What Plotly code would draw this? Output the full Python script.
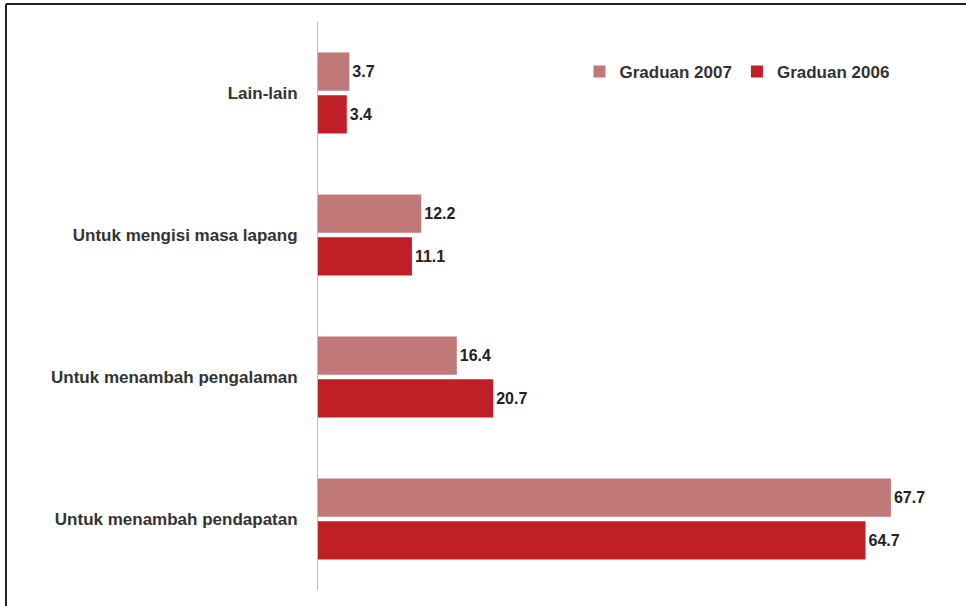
import plotly.graph_objects as go

# data
categories = [
    "Lain-lain",
    "Untuk mengisi masa lapang",
    "Untuk menambah pengalaman",
    "Untuk menambah pendapatan",
]
graduan_2007 = [3.7, 12.2, 16.4, 67.7]
graduan_2006 = [3.4, 11.1, 20.7, 64.7]

COL_2007 = "#c07878"
COL_2006 = "#bf1f26"
FONT = "Liberation Sans, Arial, sans-serif"

fig = go.Figure()
for name, vals, col in [("Graduan 2007", graduan_2007, COL_2007),
                        ("Graduan 2006", graduan_2006, COL_2006)]:
    fig.add_trace(go.Bar(
        y=categories, x=vals, name=name, orientation="h",
        marker=dict(color=col, line=dict(width=0)),
        text=[f"{v:.1f}" for v in vals], textposition="outside",
        textfont=dict(family=FONT, size=16, color="#222222", weight="bold"),
        cliponaxis=False,
    ))

fig.update_layout(
    width=966, height=606,
    margin=dict(l=318, r=4, t=22, b=16),
    paper_bgcolor="white", plot_bgcolor="white",
    barmode="group", bargap=0.4, bargroupgap=0.1,
    font=dict(family=FONT, size=15, color="#333333"),
    showlegend=True,
    legend=dict(
        orientation="h", x=0.406, y=0.912, xanchor="left", yanchor="middle",
        font=dict(family=FONT, size=17, color="#333333", weight="bold"),
        itemwidth=30, traceorder="normal",
    ),
    # frame drawn round the chart: top and left edges only
    shapes=[
        dict(type="line", xref="paper", yref="paper",
             x0=-0.4845, x1=1.01, y0=1.0317, y1=1.0317,
             line=dict(color="#222222", width=2)),
        dict(type="line", xref="paper", yref="paper",
             x0=-0.4845, x1=-0.4845, y0=1.0317, y1=-0.04,
             line=dict(color="#222222", width=2)),
    ],
)
fig.update_xaxes(range=[0, 76.1], visible=False, showgrid=False, zeroline=False)
fig.update_yaxes(
    autorange="reversed", showgrid=False, zeroline=False,
    showline=True, linecolor="#bbbbbb", linewidth=1,
    ticks="", ticklabelstandoff=16,
    tickfont=dict(family=FONT, size=17, color="#333333", weight="bold"),
)

# drop the browser's default page margin so the figure sits at (0, 0)
fig.write_html("out.html", config={"displayModeBar": False},
               post_script="document.body.style.margin='0';")
